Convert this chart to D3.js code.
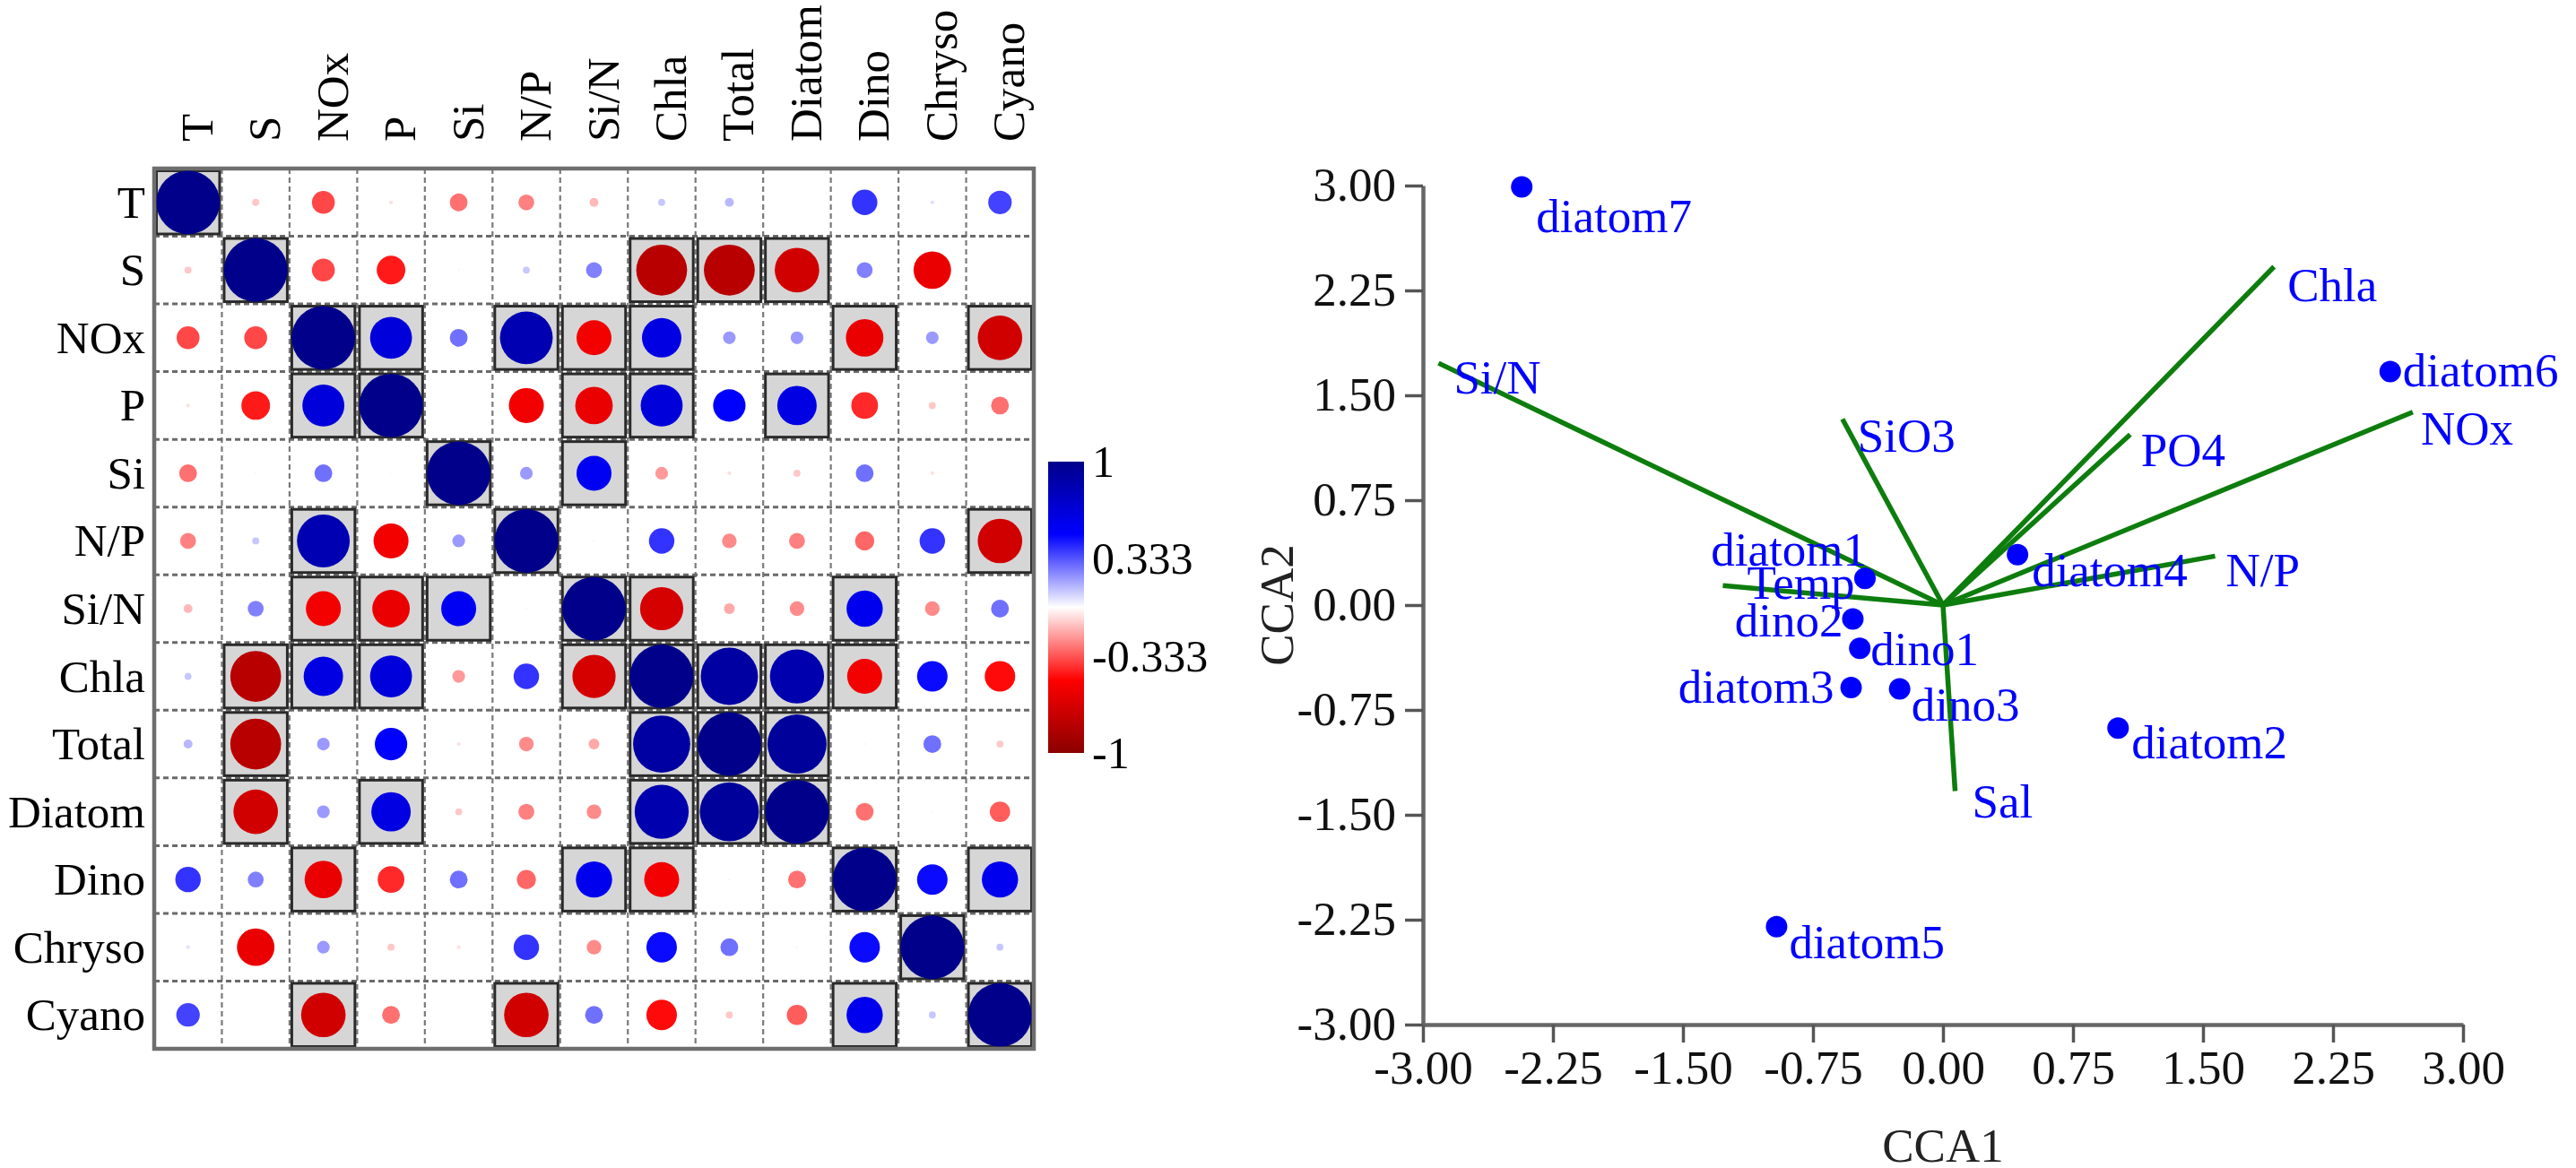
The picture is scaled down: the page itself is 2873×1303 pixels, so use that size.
<!DOCTYPE html>
<html><head><meta charset="utf-8">
<script src="https://cdn.jsdelivr.net/npm/d3@7"></script>
<style>
body{margin:0;background:#fff}
svg{display:block}
text{font-family:"Liberation Serif","Times New Roman",serif}
</style>
</head><body>
<svg id="chart" width="2873" height="1303"></svg>
<script>
// ---------- correlation matrix data ----------
const vars = ["T","S","NOx","P","Si","N/P","Si/N","Chla","Total","Diatom","Dino","Chryso","Cyano"];
const corr = [
 [ 1.00,-0.11,-0.36,-0.06,-0.28,-0.25,-0.14, 0.11, 0.14, 0.00, 0.40, 0.06, 0.37],
 [-0.11, 1.00,-0.36,-0.45,-0.03, 0.11, 0.25,-0.80,-0.80,-0.70, 0.25,-0.59, 0.00],
 [-0.36,-0.36, 1.00, 0.66, 0.28, 0.83,-0.55, 0.62, 0.20, 0.20,-0.59, 0.20,-0.70],
 [-0.06,-0.45, 0.66, 1.00, 0.02,-0.55,-0.59, 0.66, 0.51, 0.62,-0.42,-0.11,-0.28],
 [-0.28,-0.03, 0.28, 0.02, 1.00, 0.20, 0.55,-0.20,-0.06,-0.11, 0.28,-0.06, 0.00],
 [-0.25, 0.11, 0.83,-0.55, 0.20, 1.00,-0.03, 0.40,-0.23,-0.25,-0.30, 0.40,-0.70],
 [-0.14, 0.25,-0.55,-0.59, 0.55,-0.03, 1.00,-0.68,-0.17,-0.23, 0.57,-0.23, 0.28],
 [ 0.11,-0.80, 0.62, 0.66,-0.20, 0.40,-0.68, 1.00, 0.90, 0.85,-0.55, 0.48,-0.48],
 [ 0.14,-0.80, 0.20, 0.51,-0.06,-0.23,-0.17, 0.90, 1.00, 0.93,-0.03, 0.28,-0.11],
 [ 0.00,-0.70, 0.20, 0.62,-0.11,-0.25,-0.23, 0.85, 0.93, 1.00,-0.28,-0.03,-0.32],
 [ 0.40, 0.25,-0.59,-0.42, 0.28,-0.30, 0.57,-0.55,-0.03,-0.28, 1.00, 0.48, 0.57],
 [ 0.06,-0.59, 0.20,-0.11,-0.06, 0.40,-0.23, 0.48, 0.28,-0.03, 0.48, 1.00, 0.11],
 [ 0.37, 0.00,-0.70,-0.28, 0.00,-0.70, 0.28,-0.48,-0.11,-0.32, 0.57, 0.11, 1.00]
];
const sig = [
 "1000000000000",
 "0100000111000",
 "0011011100101",
 "0011001101000",
 "0000101000000",
 "0010010000001",
 "0011101100100",
 "0111001111100",
 "0100000111000",
 "0101000111000",
 "0010001100101",
 "0000000000010",
 "0010010000101"
];
const legendTicks = [1, 0.333, -0.333, -1];
const legendLabels = ["1", "0.333", "-0.333", "-1"];

// ---------- CCA data ----------
const sites = ["diatom7","diatom6","diatom4","diatom1","dino2","dino1","diatom3","dino3","diatom2","diatom5"];
const siteCCA1 = [-2.43, 2.58, 0.43, -0.45, -0.52, -0.48, -0.53, -0.25, 1.01, -0.96];
const siteCCA2 = [ 2.99, 1.67, 0.36,  0.19, -0.10, -0.31, -0.59, -0.60, -0.88, -2.30];
const envVars = ["Si/N","SiO3","Chla","PO4","NOx","N/P","Temp","Sal"];
const envCCA1 = [-2.91, -0.58, 1.91, 1.08, 2.71, 1.57, -1.27, 0.07];
const envCCA2 = [ 1.73,  1.33, 2.42, 1.22, 1.38, 0.35,  0.14, -1.33];
const axisTicks = [-3, -2.25, -1.5, -0.75, 0, 0.75, 1.5, 2.25, 3];

// label placement (layout only): [dx, dy to text centre, anchor]
const siteLabelPos = [[16,33,"start"],[14,0,"start"],[16,18,"start"],[2,-31,"end"],[-11,2,"end"],
                      [12,2,"start"],[-19,0,"end"],[13,18,"start"],[15,17,"start"],[14,18,"start"]];
const envLabelPos = [[17,17],[17,19],[15,22],[12,18],[9,19],[12,17],[27,-2],[19,13]];

const SERIF = "'Liberation Serif','Times New Roman',serif";
const svg = d3.select("#chart");
svg.append("rect").attr("width",2873).attr("height",1303).attr("fill","#fff");

// ================= Correlation plot =================
const mx = d3.scaleBand().domain(vars).range([172, 1153]);
const my = d3.scaleBand().domain(vars).range([188, 1170]);
const cw = mx.bandwidth(), ch = my.bandwidth();
const rScale = d3.scaleLinear().domain([0,1]).range([0, 0.47*Math.min(cw,ch)]);
const color = d3.scaleLinear().domain([-1,-0.5,0,0.5,1])
  .range(["#8B0000","#FF0000","#FFFFFF","#0000FF","#00008B"]);

const cells = [];
vars.forEach((rv,i)=>vars.forEach((cv,j)=>cells.push({r:rv,c:cv,v:corr[i][j],s:sig[i][j]==="1"})));

const gM = svg.append("g");
gM.selectAll("line.v").data(vars.slice(1)).join("line")
  .attr("x1",d=>mx(d)).attr("x2",d=>mx(d)).attr("y1",188).attr("y2",1170)
  .attr("stroke","#7a7a7a").attr("stroke-width",2.2).attr("stroke-dasharray","6,4");
gM.selectAll("line.h").data(vars.slice(1)).join("line")
  .attr("y1",d=>my(d)).attr("y2",d=>my(d)).attr("x1",172).attr("x2",1153)
  .attr("stroke","#6a6a6a").attr("stroke-width",3).attr("stroke-dasharray","6,4");
gM.selectAll("rect.sig").data(cells.filter(d=>d.s)).join("rect")
  .attr("x",d=>mx(d.c)+2.5).attr("y",d=>my(d.r)+2.5)
  .attr("width",cw-5).attr("height",ch-5)
  .attr("fill","#d6d6d6").attr("stroke","#2a2a2a").attr("stroke-width",3);
gM.selectAll("circle").data(cells).join("circle")
  .attr("cx",d=>mx(d.c)+cw/2).attr("cy",d=>my(d.r)+ch/2)
  .attr("r",d=>rScale(Math.abs(d.v)))
  .attr("fill",d=>color(d.v));
gM.append("rect").attr("x",172).attr("y",188).attr("width",1153-172).attr("height",1170-188)
  .attr("fill","none").attr("stroke","#6e6e6e").attr("stroke-width",4.5);
gM.selectAll("text.row").data(vars).join("text")
  .attr("x",162).attr("y",d=>my(d)+ch/2+17)
  .attr("text-anchor","end").attr("font-size",51).attr("fill","#000").text(d=>d);
gM.selectAll("text.col").data(vars).join("text")
  .attr("transform",d=>`translate(${mx(d)+cw/2+27},158) rotate(-90)`)
  .attr("text-anchor","start").attr("font-size",51).attr("fill","#000").text(d=>d);

// colour legend
const ly = d3.scaleLinear().domain([1,-1]).range([515, 840]);
const grad = svg.append("defs").append("linearGradient").attr("id","cbar")
  .attr("x1",0).attr("y1",0).attr("x2",0).attr("y2",1);
d3.range(0,1.0001,0.05).forEach(t=>{
  grad.append("stop").attr("offset",t).attr("stop-color",color(1-2*t));
});
svg.append("rect").attr("x",1169).attr("y",ly(1)).attr("width",40).attr("height",ly(-1)-ly(1))
  .attr("fill","url(#cbar)");
svg.selectAll("text.leg").data(legendTicks).join("text")
  .attr("x",1218).attr("y",d=>ly(d)+17).attr("font-size",50).attr("fill","#000")
  .text((d,i)=>legendLabels[i]);

// ================= CCA biplot =================
const x = d3.scaleLinear().domain([-3,3]).range([1587, 2747]);
const y = d3.scaleLinear().domain([-3,3]).range([1143, 207]);
const fmt = d3.format(".2f");
const tickFmt = d => fmt(d).replace("\u2212","-");

const gx = svg.append("g").attr("transform",`translate(0,${y(-3)})`)
  .call(d3.axisBottom(x).tickValues(axisTicks).tickFormat(tickFmt).tickSize(20).tickSizeOuter(0).tickPadding(8));
const gy = svg.append("g").attr("transform",`translate(${x(-3)},0)`)
  .call(d3.axisLeft(y).tickValues(axisTicks).tickFormat(tickFmt).tickSize(20).tickSizeOuter(0).tickPadding(10));
[gx,gy].forEach(g=>{
  g.attr("font-family",SERIF).attr("font-size",53);
  g.select(".domain").attr("stroke","#666").attr("stroke-width",4.5);
  g.selectAll(".tick line").attr("stroke","#555").attr("stroke-width",3.5);
  g.selectAll(".tick text").attr("font-size",53).attr("fill","#111").attr("font-family",SERIF);
});

svg.append("text").attr("x",x(0)).attr("y",1296).attr("text-anchor","middle")
  .attr("font-size",53).attr("fill","#222").text("CCA1");
svg.append("text").attr("transform",`translate(1442,${y(0)}) rotate(-90)`).attr("text-anchor","middle")
  .attr("font-size",53).attr("fill","#222").text("CCA2");

const envIdx = d3.range(envVars.length);
svg.append("g").selectAll("line").data(envIdx).join("line")
  .attr("x1",x(0)).attr("y1",y(0))
  .attr("x2",i=>x(envCCA1[i])).attr("y2",i=>y(envCCA2[i]))
  .attr("stroke","#0d7d0d").attr("stroke-width",5.5).attr("stroke-linecap","butt");

const siteIdx = d3.range(sites.length);
svg.append("g").selectAll("circle").data(siteIdx).join("circle")
  .attr("cx",i=>x(siteCCA1[i])).attr("cy",i=>y(siteCCA2[i])).attr("r",12).attr("fill","#0000FF");
svg.append("g").selectAll("text").data(siteIdx).join("text")
  .attr("x",i=>x(siteCCA1[i])+siteLabelPos[i][0])
  .attr("y",i=>y(siteCCA2[i])+siteLabelPos[i][1]+17)
  .attr("text-anchor",i=>siteLabelPos[i][2])
  .attr("font-size",53).attr("fill","#0000FF").text(i=>sites[i]);
svg.append("g").selectAll("text").data(envIdx).join("text")
  .attr("x",i=>x(envCCA1[i])+envLabelPos[i][0])
  .attr("y",i=>y(envCCA2[i])+envLabelPos[i][1]+17)
  .attr("font-size",53).attr("fill","#0000FF").text(i=>envVars[i]);
</script>
</body></html>
